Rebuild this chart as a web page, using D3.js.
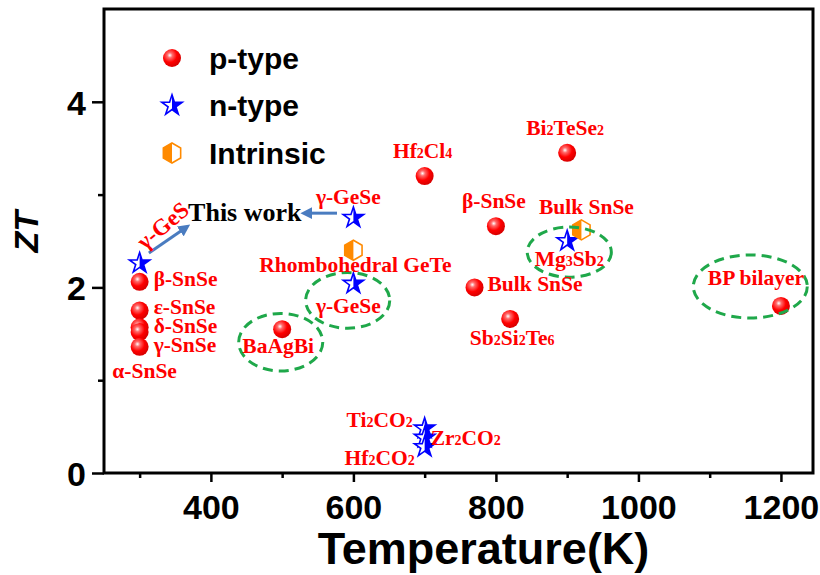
<!DOCTYPE html>
<html>
<head>
<meta charset="utf-8">
<script src="https://cdn.jsdelivr.net/npm/d3@7"></script>
<style>
body { margin: 0; background: #fff; }
svg { display: block; }
.lbl { font-family: "Liberation Serif", "Times New Roman", serif; font-weight: bold; font-size: 21.5px; fill: #ff0000; }
.axis text { font-family: "Liberation Sans", Arial, sans-serif; font-weight: bold; font-size: 34px; fill: #000; }
</style>
</head>
<body>
<svg id="chart" width="820" height="575"></svg>
<script>
// p-type materials (red balls)
var pNames = ["β-SnSe", "ε-SnSe", "δ-SnSe", "γ-SnSe", "α-SnSe", "BaAgBi", "Hf2Cl4", "Bi2TeSe2", "β-SnSe", "Bulk SnSe", "Sb2Si2Te6", "BP bilayer"];
var pTemp  = [300, 300, 300, 300, 300, 500, 700, 900, 800, 770, 820, 1200];
var pZT    = [2.06, 1.75, 1.57, 1.52, 1.36, 1.55, 3.2, 3.45, 2.66, 2.0, 1.66, 1.8];

// n-type materials (blue stars)
var nNames = ["γ-GeS", "γ-GeSe", "γ-GeSe", "Mg3Sb2", "Ti2CO2", "Zr2CO2", "Hf2CO2"];
var nTemp  = [300, 600, 600, 900, 700, 700, 700];
var nZT    = [2.26, 2.75, 2.04, 2.5, 0.48, 0.38, 0.28];

// intrinsic (orange hexagons)
var iNames = ["Rhombohedral GeTe", "Bulk SnSe"];
var iTemp  = [600, 920];
var iZT    = [2.4, 2.62];

// axis ticks
var xMajor = [400, 600, 800, 1000, 1200];
var xMinor = [300, 500, 700, 900, 1100];
var yMajor = [0, 2, 4];
var yMinor = [1, 3];

// highlighted groups (dashed ellipses): centre temp, centre ZT, half-width K, half-height ZT
var ellT  = [498, 592, 903, 1157];
var ellZ  = [1.41, 1.86, 2.38, 2.01];
var ellRT = [59, 59, 59, 80];
var ellRZ = [0.31, 0.30, 0.27, 0.34];

// label placement (pixel offsets from the point, anchor)
var pLabelPos = [[14, 4, "start"], [14, 3, "start"], [14, 6, "start"], [14, 20, "start"], [5, 31, "middle"],
                 [-4, 24, "middle"], [-2, -18, "middle"], [-2, -18, "middle"], [-2, -18, "middle"],
                 [13, 4, "start"], [2, 26, "middle"], [-25, -21, "middle"]];
var nLabelPos = [[23, -38, "middle"], [-5, -14, "middle"], [-5, 29, "middle"], [2, 25, "middle"],
                 [-12, -1, "end"], [6, 7, "start"], [-10, 18, "end"]];
var iLabelPos = [[2, 22, "middle"], [5, -16, "middle"]];

var svg = d3.select("#chart"),
    margin = {top: 9, right: 7, bottom: 102, left: 104},
    width = +svg.attr("width") - margin.left - margin.right,
    height = +svg.attr("height") - margin.top - margin.bottom;

var x = d3.scaleLinear().domain([250, 1245]).range([margin.left, margin.left + width]);
var y = d3.scaleLinear().domain([0, 5]).range([margin.top + height, margin.top]);

var defs = svg.append("defs");
var grad = defs.append("radialGradient").attr("id", "ball")
    .attr("cx", "0.38").attr("cy", "0.35").attr("r", "0.65");
grad.append("stop").attr("offset", "0%").attr("stop-color", "#ffffff");
grad.append("stop").attr("offset", "22%").attr("stop-color", "#ff6a6a");
grad.append("stop").attr("offset", "60%").attr("stop-color", "#ff0000");
grad.append("stop").attr("offset", "100%").attr("stop-color", "#d80000");

defs.append("clipPath").attr("id", "rightHalf").attr("clipPathUnits", "objectBoundingBox")
    .append("rect").attr("x", 0.5).attr("y", -0.1).attr("width", 0.6).attr("height", 1.2);
defs.append("clipPath").attr("id", "leftHalf").attr("clipPathUnits", "objectBoundingBox")
    .append("rect").attr("x", -0.1).attr("y", -0.1).attr("width", 0.6).attr("height", 1.2);

defs.append("marker").attr("id", "arrowHead")
    .attr("viewBox", "0 0 10 10").attr("refX", 5).attr("refY", 5)
    .attr("markerWidth", 4).attr("markerHeight", 4).attr("orient", "auto")
    .append("path").attr("d", "M0,0L10,5L0,10z").attr("fill", "#4a7cc0");

var starPath = d3.symbol().type(d3.symbolStar).size(130)();
var hexPath = d3.line()(d3.range(6).map(function(i) {
    var a = Math.PI / 3 * i - Math.PI / 2;
    return [10 * Math.cos(a), 10 * Math.sin(a)];
})) + "Z";

// axes
var gx = svg.append("g").attr("class", "axis")
    .attr("transform", "translate(0," + (margin.top + height) + ")");
gx.call(d3.axisBottom(x).tickValues(xMajor).tickFormat(d3.format("d")).tickSize(9).tickSizeOuter(0).tickPadding(6));
gx.append("g").call(d3.axisBottom(x).tickValues(xMinor).tickSize(5).tickFormat(""));
var gy = svg.append("g").attr("class", "axis")
    .attr("transform", "translate(" + margin.left + ",0)");
gy.call(d3.axisLeft(y).tickValues(yMajor).tickFormat(d3.format("d")).tickSize(12).tickSizeOuter(0).tickPadding(6));
gy.append("g").call(d3.axisLeft(y).tickValues(yMinor).tickSize(6).tickFormat(""));
svg.selectAll(".axis .domain").remove();
svg.selectAll(".axis line").attr("stroke", "#000").attr("stroke-width", 2.5);
gx.selectAll("text").attr("dy", "0.9em");
gy.selectAll("text").attr("dy", "0.36em");

svg.append("rect")
    .attr("x", margin.left).attr("y", margin.top)
    .attr("width", width).attr("height", height)
    .attr("fill", "none").attr("stroke", "#000").attr("stroke-width", 3);

svg.append("text")
    .attr("x", (x.range()[0] + x.range()[1]) / 2 + 25).attr("y", 564)
    .attr("text-anchor", "middle")
    .style("font-family", "'Liberation Sans', Arial, sans-serif")
    .style("font-weight", "bold").style("font-size", "45px")
    .text("Temperature(K)");

svg.append("text")
    .attr("transform", "translate(38," + y(2.6) + ") rotate(-90)")
    .attr("text-anchor", "middle")
    .style("font-family", "'Liberation Sans', Arial, sans-serif")
    .style("font-weight", "bold").style("font-style", "italic").style("font-size", "34px")
    .text("ZT");

// "This work" arrows
svg.append("line")
    .attr("x1", x(313)).attr("y1", y(2.37)).attr("x2", x(364)).attr("y2", y(2.64))
    .attr("stroke", "#4a7cc0").attr("stroke-width", 3).attr("marker-end", "url(#arrowHead)");
svg.append("line")
    .attr("x1", x(577)).attr("y1", y(2.80)).attr("x2", x(534)).attr("y2", y(2.80))
    .attr("stroke", "#4a7cc0").attr("stroke-width", 3).attr("marker-end", "url(#arrowHead)");
svg.append("text")
    .attr("x", x(368)).attr("y", y(2.72))
    .style("font-family", "'Liberation Serif', 'Times New Roman', serif")
    .style("font-weight", "bold").style("font-size", "26px")
    .text("This work");

// markers
svg.selectAll(".ball").data(pNames).enter().append("circle")
    .attr("class", "ball")
    .attr("cx", function(d, i) { return x(pTemp[i]); })
    .attr("cy", function(d, i) { return y(pZT[i]); })
    .attr("r", 9)
    .attr("fill", "url(#ball)");

var stars = svg.selectAll(".star").data(nNames).enter().append("g")
    .attr("class", "star")
    .attr("transform", function(d, i) { return "translate(" + x(nTemp[i]) + "," + y(nZT[i]) + ")"; });
stars.append("path").attr("d", starPath).attr("fill", "#fff").attr("stroke", "#0000ff").attr("stroke-width", 1.6);
stars.append("path").attr("d", starPath).attr("fill", "#0000ff").attr("clip-path", "url(#rightHalf)");

var hexes = svg.selectAll(".hex").data(iNames).enter().append("g")
    .attr("class", "hex")
    .attr("transform", function(d, i) { return "translate(" + x(iTemp[i]) + "," + y(iZT[i]) + ")"; });
hexes.append("path").attr("d", hexPath).attr("fill", "#fff").attr("stroke", "#ff8a00").attr("stroke-width", 1.6);
hexes.append("path").attr("d", hexPath).attr("fill", "#ff8a00").attr("clip-path", "url(#leftHalf)");

// ellipses
svg.selectAll(".ring").data(ellT).enter().append("ellipse")
    .attr("class", "ring")
    .attr("cx", function(d) { return x(d); })
    .attr("cy", function(d, i) { return y(ellZ[i]); })
    .attr("rx", function(d, i) { return x(d + ellRT[i]) - x(d); })
    .attr("ry", function(d, i) { return y(0) - y(ellRZ[i]); })
    .attr("fill", "none").attr("stroke", "#1fa84a").attr("stroke-width", 3)
    .attr("stroke-dasharray", "10,6");

// labels with subscripts for digits
function addLabel(name, tx, ty, pos, rot) {
    var t = svg.append("text").attr("class", "lbl")
        .attr("text-anchor", pos[2]);
    if (rot) {
        t.attr("transform", "translate(" + (x(tx) + pos[0]) + "," + (y(ty) + pos[1]) + ") rotate(" + rot + ")")
         .attr("dy", "0.35em").style("font-size", "23px");
    } else {
        t.attr("x", x(tx) + pos[0]).attr("y", y(ty) + pos[1]);
    }
    name.split(/(\d)/).forEach(function(part) {
        if (!part) return;
        var s = t.append("tspan").text(part);
        if (/\d/.test(part)) s.style("font-size", "14px");
    });
}
pNames.forEach(function(d, i) { addLabel(d, pTemp[i], pZT[i], pLabelPos[i]); });
nNames.forEach(function(d, i) { addLabel(d, nTemp[i], nZT[i], nLabelPos[i], i === 0 ? -40 : 0); });
iNames.forEach(function(d, i) { addLabel(d, iTemp[i], iZT[i], iLabelPos[i]); });

// legend
var legendNames = ["p-type", "n-type", "Intrinsic"];
var legend = svg.selectAll(".legend").data(legendNames).enter().append("g")
    .attr("class", "legend")
    .attr("transform", function(d, i) { return "translate(172," + (58 + i * 47.5) + ")"; });
legend.append("text")
    .attr("x", 37).attr("dy", "0.36em")
    .style("font-family", "'Liberation Sans', Arial, sans-serif")
    .style("font-weight", "bold").style("font-size", "30px")
    .text(function(d) { return d; });
legend.filter(function(d, i) { return i === 0; }).append("circle").attr("r", 9).attr("fill", "url(#ball)");
var ls = legend.filter(function(d, i) { return i === 1; });
ls.append("path").attr("d", starPath).attr("fill", "#fff").attr("stroke", "#0000ff").attr("stroke-width", 1.6);
ls.append("path").attr("d", starPath).attr("fill", "#0000ff").attr("clip-path", "url(#rightHalf)");
var lh = legend.filter(function(d, i) { return i === 2; });
lh.append("path").attr("d", hexPath).attr("fill", "#fff").attr("stroke", "#ff8a00").attr("stroke-width", 1.6);
lh.append("path").attr("d", hexPath).attr("fill", "#ff8a00").attr("clip-path", "url(#leftHalf)");
</script>
</body>
</html>
